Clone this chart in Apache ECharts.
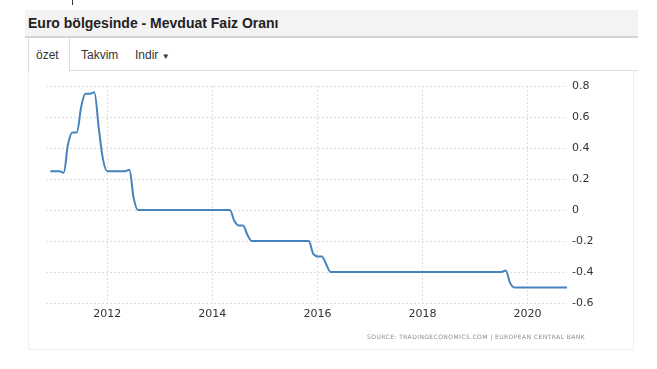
<!DOCTYPE html>
<html>
<head>
<meta charset="utf-8">
<script src="https://cdn.jsdelivr.net/npm/echarts@6/dist/echarts.min.js"></script>
<style>
  html, body { margin:0; padding:0; width:657px; height:369px; background:#fff; overflow:hidden; font-family:"Liberation Sans", Arial, sans-serif; }
  #tick { position:absolute; left:72px; top:0; width:1px; height:5px; background:#333; }
  #titlebar { position:absolute; left:25px; top:10px; width:613px; height:26px; background:#f3f3f3; border-bottom:2px solid #d4d4d4; }
  #title { position:absolute; left:3px; top:5px; font-size:14px; font-weight:bold; color:#222; white-space:nowrap; }
  #tabline { position:absolute; left:69px; top:70px; width:569px; height:1px; border-top:1px solid #dcdcdc; }
  #activetab { position:absolute; left:28px; top:38px; width:40px; height:34px; border-left:1px solid #dcdcdc; border-right:1px solid #dcdcdc; background:#fff; }
  .tab { position:absolute; top:48px; font-size:12px; color:#333; white-space:nowrap; }
  #panel { position:absolute; left:28px; top:71px; width:604px; height:278px; border:1px solid #efefef; border-top:none; }
  #chart { position:absolute; left:0; top:0; width:657px; height:369px; }
  #source { position:absolute; left:367px; top:333px; font-size:6px; color:#8a8a8a; letter-spacing:0.43px; white-space:nowrap; font-family:"DejaVu Sans", sans-serif; }
</style>
</head>
<body>
<div id="tick"></div>
<div id="titlebar"><div id="title">Euro bölgesinde - Mevduat Faiz Oranı</div></div>
<div id="panel"></div>
<div id="tabline"></div>
<div id="activetab"></div>
<div class="tab" style="left:36px">özet</div>
<div class="tab" style="left:81px">Takvim</div>
<div class="tab" style="left:135px">Indir <span style="font-size:8px">&#9660;</span></div>
<div id="chart"></div>
<div id="source">SOURCE: TRADINGECONOMICS.COM | EUROPEAN CENTRAL BANK</div>
<script>
// Monthly categories: Nov 2010 .. Oct 2020
const startYear = 2010, startMonth = 11, monthCount = 120;
const months = [];
for (let i = 0; i < monthCount; i++) {
  const m = startMonth - 1 + i;
  const y = startYear + Math.floor(m / 12);
  const mm = (m % 12) + 1;
  months.push(y + '-' + (mm < 10 ? '0' + mm : mm));
}
// Deposit facility rate (%), monthly
const v2010 = [null, 0.25];
const v2011 = [0.25, 0.25, 0.24, 0.42, 0.5, 0.5, 0.66, 0.75, 0.75, 0.76, 0.54, 0.33];
const v2012 = [0.25, 0.25, 0.25, 0.25, 0.25, 0.26, 0.08, 0, 0, 0, 0, 0];
const v2013 = [0, 0, 0, 0, 0, 0, 0, 0, 0, 0, 0, 0];
const v2014 = [0, 0, 0, 0, 0, -0.07, -0.1, -0.1, -0.16, -0.2, -0.2, -0.2];
const v2015 = [-0.2, -0.2, -0.2, -0.2, -0.2, -0.2, -0.2, -0.2, -0.2, -0.2, -0.2, -0.28];
const v2016 = [-0.3, -0.3, -0.35, -0.4, -0.4, -0.4, -0.4, -0.4, -0.4, -0.4, -0.4, -0.4];
const v2017 = [-0.4, -0.4, -0.4, -0.4, -0.4, -0.4, -0.4, -0.4, -0.4, -0.4, -0.4, -0.4];
const v2018 = [-0.4, -0.4, -0.4, -0.4, -0.4, -0.4, -0.4, -0.4, -0.4, -0.4, -0.4, -0.4];
const v2019 = [-0.4, -0.4, -0.4, -0.4, -0.4, -0.4, -0.4, -0.39, -0.47, -0.5, -0.5, -0.5];
const v2020 = [-0.5, -0.5, -0.5, -0.5, -0.5, -0.5, -0.5, -0.5, -0.5, -0.5];
const values = [].concat(v2010, v2011, v2012, v2013, v2014, v2015, v2016, v2017, v2018, v2019, v2020);
const xTickYears = ['2012', '2014', '2016', '2018', '2020'];
const yMin = -0.6, yMax = 0.8, yStep = 0.2;

const isYearTick = (idx, val) => {
  const s = months[idx];
  return s.slice(5) === '01' && xTickYears.indexOf(s.slice(0, 4)) >= 0;
};

const chart = echarts.init(document.getElementById('chart'), null, { renderer: 'canvas' });
chart.setOption({
  animation: false,
  backgroundColor: 'transparent',
  grid: { left: 46, right: 90, top: 86, bottom: 66, containLabel: false },
  xAxis: {
    type: 'category',
    data: months,
    boundaryGap: false,
    axisLine: { show: false },
    axisTick: { show: false },
    axisLabel: {
      interval: isYearTick,
      formatter: (v) => v.slice(0, 4),
      color: '#333',
      fontSize: 11,
      fontFamily: 'DejaVu Sans',
      margin: 6
    },
    splitLine: {
      show: true,
      interval: isYearTick,
      lineStyle: { color: '#dedede', type: [2, 2], width: 1 }
    }
  },
  yAxis: {
    type: 'value',
    position: 'right',
    min: yMin, max: yMax, interval: yStep,
    axisLine: { show: false },
    axisTick: { show: false },
    axisLabel: { color: '#333', fontSize: 11, fontFamily: 'DejaVu Sans', margin: 5, align: 'left' },
    splitLine: { lineStyle: { color: '#dedede', type: [2, 2], width: 1 } }
  },
  series: [{
    type: 'line',
    data: values,
    smooth: 0.25,
    showSymbol: false,
    connectNulls: false,
    lineStyle: { color: '#4682be', width: 2 },
    itemStyle: { color: '#4682be' }
  }]
});
</script>
</body>
</html>
